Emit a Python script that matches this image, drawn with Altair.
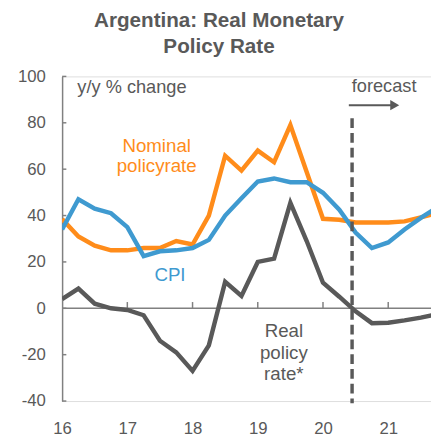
import altair as alt
import pandas as pd

# ---- data ----
quarters = [2016.0, 2016.25, 2016.5, 2016.75, 2017.0, 2017.25, 2017.5, 2017.75,
            2018.0, 2018.25, 2018.5, 2018.75, 2019.0, 2019.25, 2019.5, 2019.75,
            2020.0, 2020.25, 2020.5, 2020.75, 2021.0, 2021.25, 2021.5, 2021.75]
cpi = [34, 47, 43, 41, 35, 22.5, 24.6, 25, 26, 29.5, 40, 47.5,
       54.7, 56, 54.4, 54.4, 49.8, 42.5, 32.7, 26, 28.4, 34, 39, 43.5]
nominal = [38.5, 31, 27, 25, 25, 26, 26, 29, 27.5, 40, 65.8, 59.4,
           68, 63, 79, 58.8, 38.6, 38.2, 37, 37, 37, 37.5, 39.2, 41]
real = [4, 8.5, 2, 0, -0.7, -3, -14, -19, -27, -16, 11.4, 5.3,
        20, 21.4, 45.5, 29, 11, 5, -1.3, -6.4, -6.2, -5.2, -4, -2.5]

year_ticks = [2016, 2017, 2018, 2019, 2020, 2021]
y_ticks = [-40, -20, 0, 20, 40, 60, 80, 100]
x_domain = [2016, 2021.656]
y_domain = [-40, 100]
forecast_start = 2020.446

GREY = "#595959"
AXIS = "#808080"
ORANGE = "#FF8C1A"
BLUE = "#3F9AD0"
FONT = "Liberation Sans"

xs = alt.Scale(domain=x_domain, nice=False, zero=False)
ys = alt.Scale(domain=y_domain, nice=False, zero=False)

x_axis = alt.Axis(values=year_ticks, labelExpr="'' + (datum.value - 2000)",
                  domain=False, ticks=False, tickSize=0, grid=False, labelFlush=False,
                  labelPadding=20, labelFontSize=17, labelColor=GREY, labelFont=FONT,
                  title=None)
y_axis = alt.Axis(values=y_ticks, labelExpr="'' + datum.value",
                  domain=True, domainColor=AXIS, domainWidth=1.5,
                  ticks=False, tickSize=0, grid=False, labelPadding=17,
                  labelFontSize=17, labelColor=GREY, labelFont=FONT, title=None)

X = alt.X("t:Q", scale=xs, axis=x_axis)
Y = alt.Y("v:Q", scale=ys, axis=y_axis)

def series_df(vals):
    return pd.DataFrame({"t": quarters, "v": vals})

# zero line with upward year ticks
zero_df = pd.DataFrame({"t": [x_domain[0]], "t2": [x_domain[1]], "v": [0]})
zero_line = alt.Chart(zero_df).mark_rule(color=AXIS, strokeWidth=1.5).encode(
    x=X, x2="t2:Q", y=Y)

xtick_df = pd.DataFrame({"t": year_ticks[1:], "v": [0] * 5, "v2": [2.7] * 5})
xticks = alt.Chart(xtick_df).mark_rule(color=AXIS, strokeWidth=1.5).encode(
    x=X, y=Y, y2="v2:Q")

ytick_df = pd.DataFrame({"t": [x_domain[0]] * len(y_ticks), "t2": [2016.065] * len(y_ticks),
                         "v": y_ticks})
yticks = alt.Chart(ytick_df).mark_rule(color=AXIS, strokeWidth=1.5).encode(
    x=X, x2="t2:Q", y=Y)

real_line = alt.Chart(series_df(real)).mark_line(color=GREY, strokeWidth=4.5, clip=True).encode(x=X, y=Y)
nom_line = alt.Chart(series_df(nominal)).mark_line(color=ORANGE, strokeWidth=4.5, clip=True).encode(x=X, y=Y)
cpi_line = alt.Chart(series_df(cpi)).mark_line(color=BLUE, strokeWidth=4.5, clip=True).encode(x=X, y=Y)

# forecast marker
fc_df = pd.DataFrame({"t": [forecast_start], "v": [82], "v2": [-41]})
fc_line = alt.Chart(fc_df).mark_rule(color=GREY, strokeWidth=3.5, strokeDash=[10, 5]).encode(
    x=X, y=Y, y2="v2:Q")

arrow_df = pd.DataFrame({"t": [2020.396], "t2": [2021.12], "v": [87.6]})
arrow_shaft = alt.Chart(arrow_df).mark_rule(color=GREY, strokeWidth=2).encode(x=X, x2="t2:Q", y=Y)
head_df = pd.DataFrame({"t": [2021.10], "v": [87.6]})
arrow_head = alt.Chart(head_df).mark_point(shape="triangle-right", filled=True, size=110,
                                            color=GREY, opacity=1).encode(x=X, y=Y)

# annotations (first line of each text sits at the given value)
def label(text, t, v, color, size, align="center", line_height=None):
    df = pd.DataFrame({"t": [t], "v": [v], "txt": [text]})
    kw = dict(align=align, baseline="middle", font=FONT, fontSize=size, color=color,
              lineBreak="\n")
    if line_height:
        kw["lineHeight"] = line_height
    return alt.Chart(df).mark_text(**kw).encode(x=X, y=Y, text="txt:N")

lbl_unit = label("y/y % change", 2016.234, 95.5, GREY, 18.5, align="left")
lbl_nom = label("Nominal\npolicyrate", 2017.45, 70, ORANGE, 19, line_height=20.5)
lbl_cpi = label("CPI", 2017.654, 14.4, BLUE, 19)
lbl_real = label("Real\npolicy\nrate*", 2019.40, -9.8, GREY, 19, line_height=22)
lbl_fc = label("forecast", 2020.441, 96, GREY, 18.5, align="left")

chart = alt.layer(
    zero_line, xticks, yticks, real_line, nom_line, cpi_line,
    fc_line, arrow_shaft, arrow_head,
    lbl_unit, lbl_nom, lbl_cpi, lbl_real, lbl_fc,
).properties(
    width=375, height=330,
    padding={"left": 55, "top": 66, "right": 0, "bottom": 34},
    autosize="none",
    title=alt.TitleParams(text=["Argentina: Real Monetary", "Policy Rate"], fontSize=21,
                          fontWeight="bold", color=GREY, font=FONT, anchor="middle",
                          dx=-28, offset=11, lineHeight=26),
).configure_view(stroke=None).configure(background="white")

chart.save("out.html", embed_options={"renderer": "svg", "actions": False})
